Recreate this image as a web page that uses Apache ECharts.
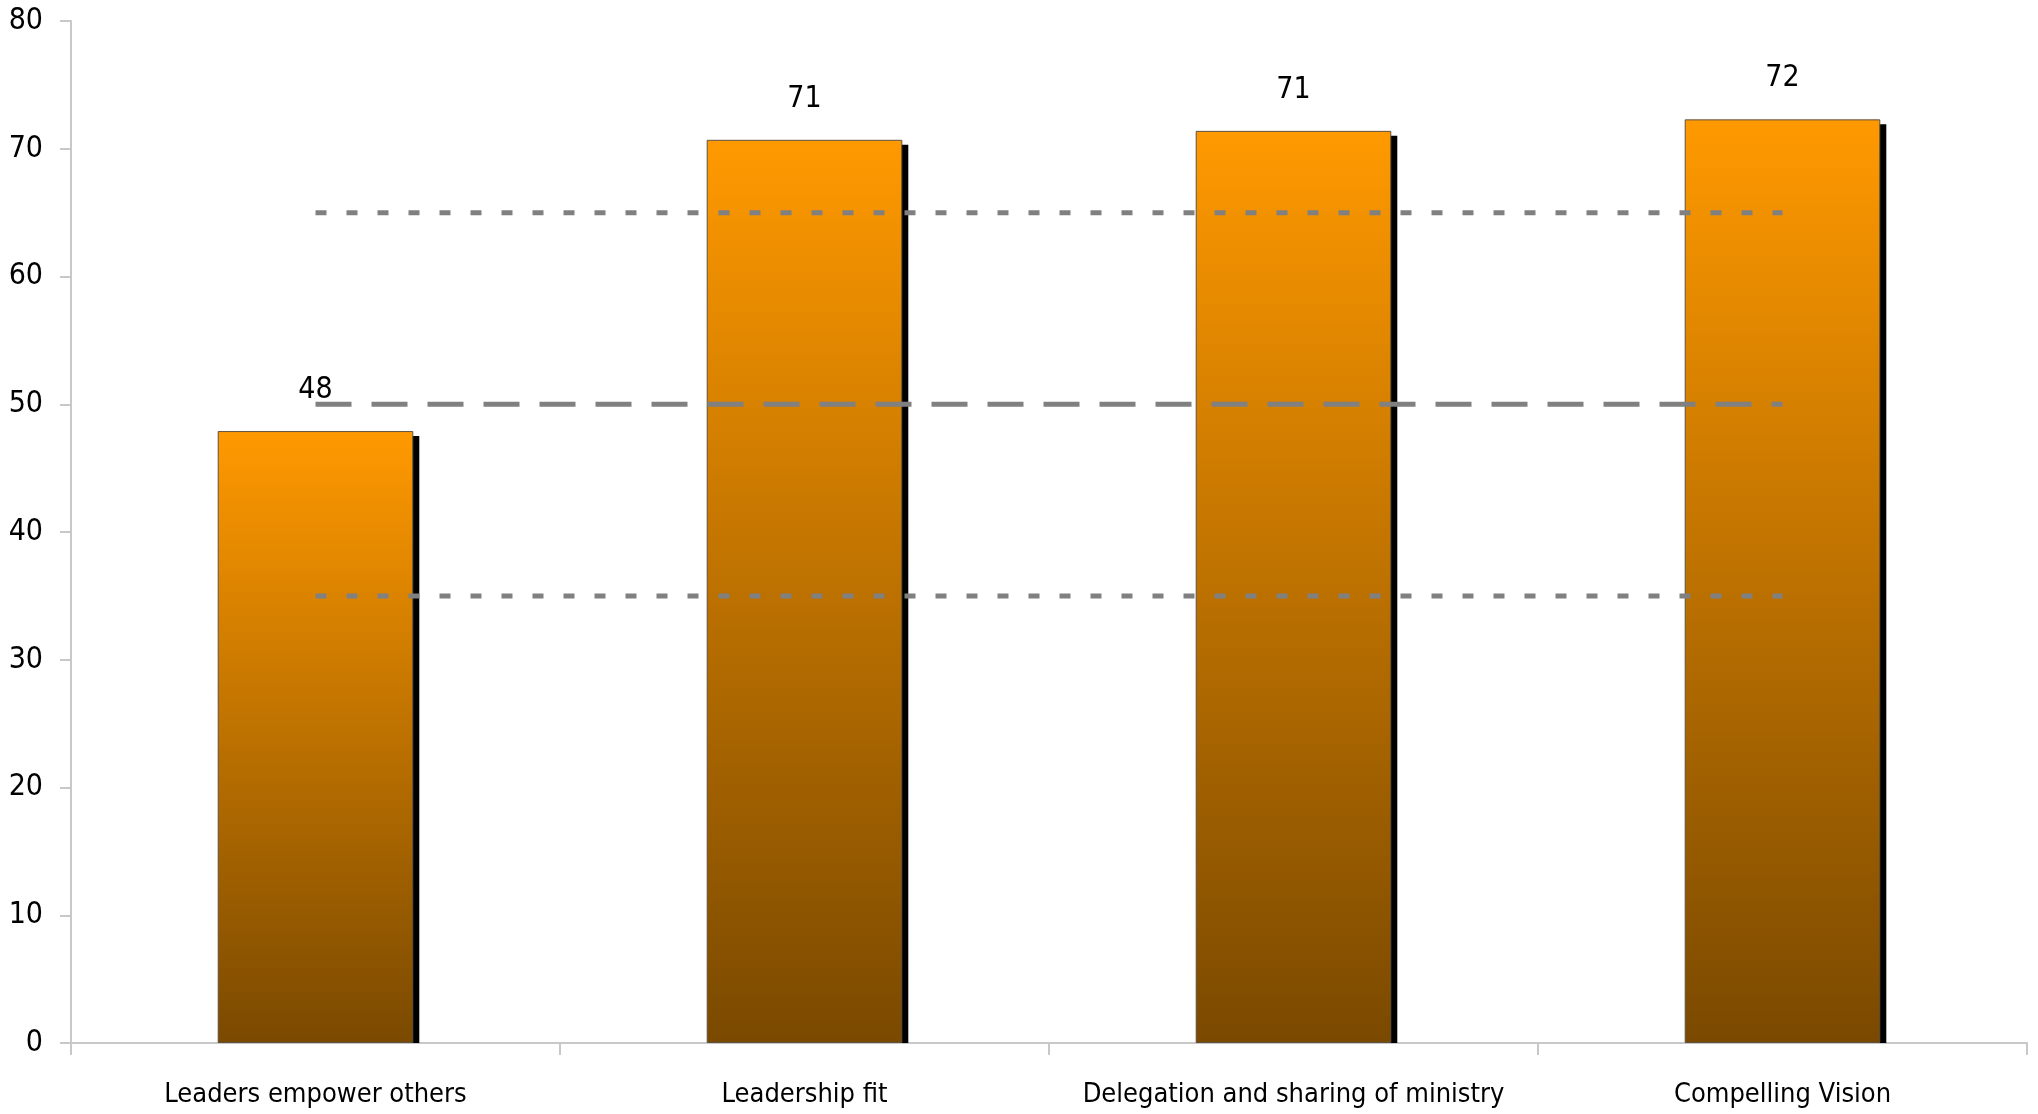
<!DOCTYPE html>
<html>
<head>
<meta charset="utf-8">
<script src="https://cdn.jsdelivr.net/npm/echarts@6/dist/echarts.min.js"></script>
<style>
html,body{margin:0;padding:0;background:#fff;}
#chart{width:2038px;height:1114px;}
</style>
</head>
<body>
<div id="chart"></div>
<script>
const categories = ['Leaders empower others', 'Leadership fit', 'Delegation and sharing of ministry', 'Compelling Vision'];
const scores = [47.9, 70.7, 71.4, 72.3];
const upperRef = [65, 65, 65, 65];
const midRef = [50, 50, 50, 50];
const lowerRef = [35, 35, 35, 35];
const yTicks = {min: 0, max: 80, interval: 10};

const FONT = "Tahoma, 'DejaVu Sans Condensed', 'Liberation Sans Narrow', sans-serif";
const chart = echarts.init(document.getElementById('chart'));

const barGradient = new echarts.graphic.LinearGradient(0, 0, 0, 1, [
  {offset: 0, color: '#FF9900'},
  {offset: 1, color: '#7A4900'}
]);

function refLine(data, dash) {
  return {
    type: 'line', data: data, symbol: 'none', silent: true, z: 5,
    lineStyle: {color: '#808080', width: 5, type: dash, cap: 'butt'}
  };
}

chart.setOption({
  animation: false,
  grid: {left: 71, right: 11, top: 21, bottom: 71},
  xAxis: {
    type: 'category', data: categories,
    axisLine: {lineStyle: {color: '#c8c8c8', width: 2}},
    axisTick: {show: true, interval: 0, length: 12, lineStyle: {color: '#c8c8c8', width: 2}},
    axisLabel: {interval: 0, color: '#000', fontFamily: FONT, fontSize: 27, margin: 38}
  },
  yAxis: {
    type: 'value', min: yTicks.min, max: yTicks.max, interval: yTicks.interval,
    splitLine: {show: false},
    axisLine: {show: true, lineStyle: {color: '#c8c8c8', width: 2}},
    axisTick: {show: true, length: 11, lineStyle: {color: '#c8c8c8', width: 2}},
    axisLabel: {color: '#000', fontFamily: FONT, fontSize: 30, margin: 28}
  },
  series: [
    {
      type: 'custom', z: 1, silent: true,
      data: scores.map((v, i) => [i, v]),
      renderItem: function (params, api) {
        const top = api.coord([api.value(0), api.value(1)]);
        const base = api.coord([api.value(0), 0]);
        const w = api.size([1, 0])[0] * 0.4;
        return {
          type: 'rect',
          shape: {x: top[0] - w / 2 + 6, y: top[1] + 5, width: w, height: base[1] - top[1] - 5},
          style: {fill: '#000'}
        };
      }
    },
    {
      type: 'bar', data: scores, barWidth: '40%', z: 2,
      itemStyle: {color: barGradient, borderColor: '#5e5040', borderWidth: 1},
      label: {
        show: true, position: 'top', distance: 26, color: '#000',
        fontFamily: FONT, fontSize: 30,
        formatter: p => Math.round(p.value)
      }
    },
    refLine(upperRef, [11, 20]),
    refLine(midRef, [36, 20]),
    refLine(lowerRef, [11, 20])
  ]
});
</script>
</body>
</html>
